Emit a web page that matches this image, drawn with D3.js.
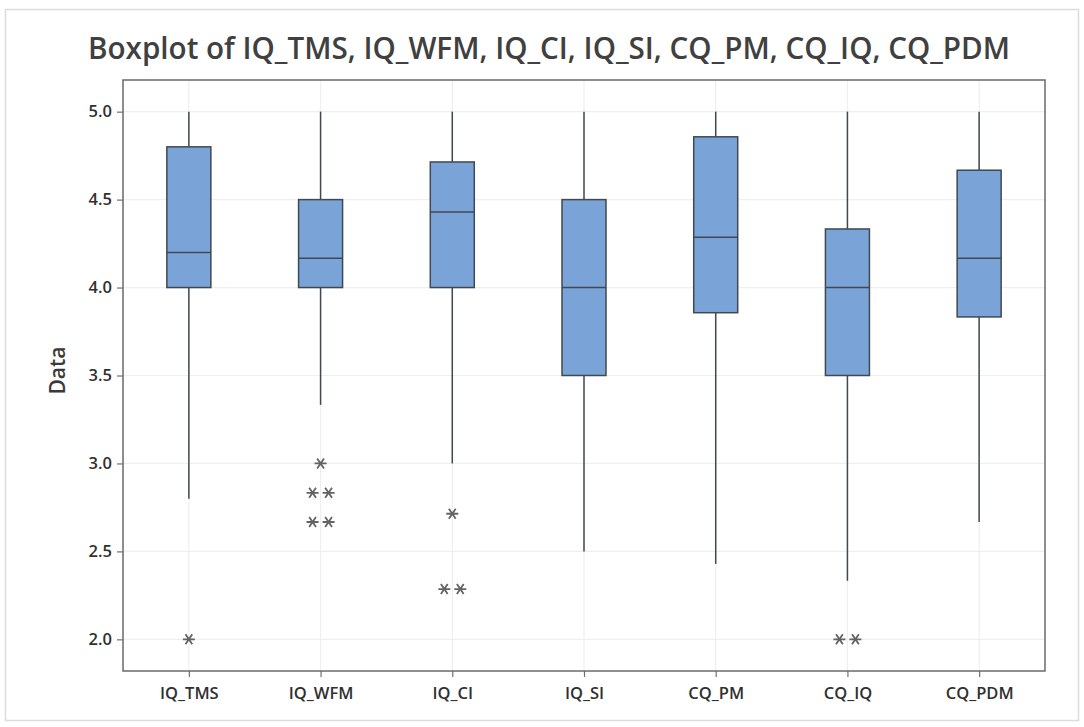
<!DOCTYPE html>
<html>
<head>
<meta charset="utf-8">
<script src="https://cdn.jsdelivr.net/npm/d3@7"></script>
<style>
  html, body { margin: 0; padding: 0; background: #ffffff; }
  svg { display: block; }
  text { font-family: "Open Sans", "Noto Sans", sans-serif; fill: #303030; }
</style>
</head>
<body>
<svg id="chart" width="1084" height="727"></svg>
<script>
// Variables shown in the boxplot
const categories = ["IQ_TMS", "IQ_WFM", "IQ_CI", "IQ_SI", "CQ_PM", "CQ_IQ", "CQ_PDM"];

// Five-number summaries per variable
const whiskerHigh = [5.0, 5.0, 5.0, 5.0, 5.0, 5.0, 5.0];
const q3Values    = [4.8, 4.5, 4.714, 4.5, 4.857, 4.333, 4.667];
const medians     = [4.2, 4.167, 4.429, 4.0, 4.286, 4.0, 4.167];
const q1Values    = [4.0, 4.0, 4.0, 3.5, 3.857, 3.5, 3.833];
const whiskerLow  = [2.8, 3.333, 3.0, 2.5, 2.429, 2.333, 2.667];

// Outliers: [value, number of observations at that value]
const outliers = [
  [[2.0, 1]],
  [[3.0, 1], [2.833, 2], [2.667, 2]],
  [[2.714, 1], [2.286, 2]],
  [],
  [],
  [[2.0, 2]],
  []
];

const yTicks = [2.0, 2.5, 3.0, 3.5, 4.0, 4.5, 5.0];
const titleText = "Boxplot of IQ_TMS, IQ_WFM, IQ_CI, IQ_SI, CQ_PM, CQ_IQ, CQ_PDM";
const yTitle = "Data";

const svg = d3.select("#chart");
const W = 1084, H = 727;
const plot = { left: 123, right: 1045, top: 80, bottom: 671 };
const boxWidth = 44;

// outer frame
svg.append("rect")
  .attr("x", 5.5).attr("y", 9.5)
  .attr("width", W - 11).attr("height", H - 16)
  .attr("fill", "#ffffff")
  .attr("stroke", "#dcdcdc").attr("stroke-width", 1.5);

const x = d3.scalePoint().domain(categories)
  .range([plot.left, plot.right]).padding(0.5);
const y = d3.scaleLinear().domain([1.82, 5.18])
  .range([plot.bottom, plot.top]);

// gridlines
const grid = svg.append("g").attr("stroke", "#efefef").attr("stroke-width", 1.2);
grid.selectAll("line.h").data(yTicks).join("line")
  .attr("x1", plot.left).attr("x2", plot.right)
  .attr("y1", d => y(d)).attr("y2", d => y(d));
grid.selectAll("line.v").data(categories).join("line")
  .attr("y1", plot.top).attr("y2", plot.bottom)
  .attr("x1", d => x(d)).attr("x2", d => x(d));

// axes
const yAxis = svg.append("g")
  .attr("transform", `translate(${plot.left},0)`)
  .call(d3.axisLeft(y).tickValues(yTicks).tickFormat(d3.format(".1f")).tickSize(6).tickPadding(5));
const xAxis = svg.append("g")
  .attr("transform", `translate(0,${plot.bottom})`)
  .call(d3.axisBottom(x).tickSize(6).tickPadding(10));
[yAxis, xAxis].forEach(a => {
  a.select(".domain").remove();
  a.selectAll(".tick line").attr("stroke", "#707070").attr("stroke-width", 1.2);
  a.selectAll(".tick text").attr("fill", "#2e2e2e").style("font-weight", 600);
});
yAxis.selectAll(".tick text").style("font-size", "16.5px");
xAxis.selectAll(".tick text").style("font-size", "16.5px").attr("dy", "0.75em");

// plot frame
svg.append("rect")
  .attr("x", plot.left).attr("y", plot.top)
  .attr("width", plot.right - plot.left).attr("height", plot.bottom - plot.top)
  .attr("fill", "none").attr("stroke", "#6a6a6a").attr("stroke-width", 1.5);

// boxes
const stats = categories.map((c, i) => ({
  name: c, hi: whiskerHigh[i], q3: q3Values[i], med: medians[i],
  q1: q1Values[i], lo: whiskerLow[i], out: outliers[i]
}));
const boxG = svg.append("g").selectAll("g").data(stats).join("g")
  .attr("transform", d => `translate(${x(d.name)},0)`);

const lineColor = "#404850";
boxG.append("line").attr("x1", 0).attr("x2", 0)
  .attr("y1", d => y(d.hi)).attr("y2", d => y(d.q3))
  .attr("stroke", lineColor).attr("stroke-width", 1.5);
boxG.append("line").attr("x1", 0).attr("x2", 0)
  .attr("y1", d => y(d.q1)).attr("y2", d => y(d.lo))
  .attr("stroke", lineColor).attr("stroke-width", 1.5);
boxG.append("rect")
  .attr("x", -boxWidth / 2).attr("width", boxWidth)
  .attr("y", d => y(d.q3)).attr("height", d => y(d.q1) - y(d.q3))
  .attr("fill", "#7aa4d8").attr("stroke", lineColor).attr("stroke-width", 1.5);
boxG.append("line")
  .attr("x1", -boxWidth / 2).attr("x2", boxWidth / 2)
  .attr("y1", d => y(d.med)).attr("y2", d => y(d.med))
  .attr("stroke", lineColor).attr("stroke-width", 1.5);

// outlier asterisks; repeated values are placed side by side
const star = "M-6,0H6M-3.4,-5L3.4,5M-3.4,5L3.4,-5";
boxG.each(function(d) {
  const g = d3.select(this);
  d.out.forEach(([v, n]) => {
    for (let k = 0; k < n; k++) {
      const dx = (k - (n - 1) / 2) * 16;
      g.append("path").attr("d", star)
        .attr("transform", `translate(${dx},${y(v)})`)
        .attr("fill", "none").attr("stroke", "#636363").attr("stroke-width", 1.8);
    }
  });
});

// titles
svg.append("text")
  .attr("x", 549).attr("y", 59)
  .attr("text-anchor", "middle")
  .attr("textLength", 922).attr("lengthAdjust", "spacingAndGlyphs")
  .style("font-size", "31px").style("font-weight", 600).style("fill", "#404040")
  .text(titleText);

svg.append("text")
  .attr("transform", `translate(65,${(plot.top + plot.bottom) / 2 - 5}) rotate(-90)`)
  .attr("text-anchor", "middle")
  .style("font-size", "21px").style("font-weight", 600).style("fill", "#3a3a3a")
  .text(yTitle);
</script>
</body>
</html>
